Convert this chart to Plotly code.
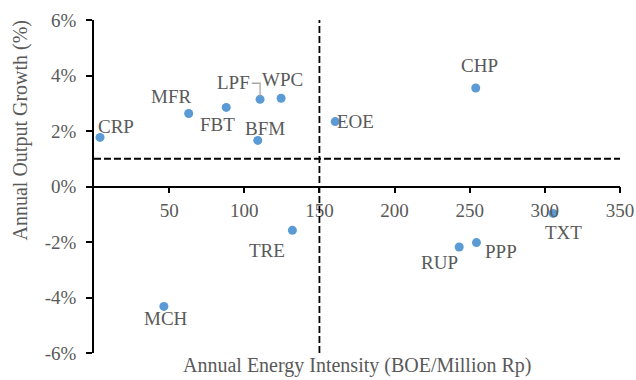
import plotly.graph_objects as go

sectors = ["CRP", "MFR", "FBT", "LPF", "WPC", "BFM", "EOE", "CHP", "TRE", "MCH", "RUP", "PPP", "TXT"]
energy_intensity = [4, 63, 88, 110.5, 124.5, 109, 160.5, 254, 132, 46.5, 243, 254.5, 305.5]
output_growth = [1.77, 2.63, 2.85, 3.14, 3.18, 1.66, 2.34, 3.55, -1.58, -4.32, -2.18, -2.02, -0.97]
# label offsets in pixels (dx right, dy down)
label_dx = [16, -18, -9, -27, 1, 7, 20, 4, -25, 2, -20, 25, 10]
label_dy = [-11, -17, 17, -17, -19, -12, 0, -22, 20, 12, 15, 9, 19]

x_ticks = [50, 100, 150, 200, 250, 300, 350]
x_tick_text = ["50", "100", "150", "200", "250", "300", "350"]
y_ticks = [-6, -4, -2, 0, 2, 4, 6]
y_tick_text = ["-6%", "-4%", "-2%", "0%", "2%", "4%", "6%"]
x_threshold = 150
y_threshold = 1

FONT = "Liberation Serif, Times New Roman, serif"
GRAY = "#595959"
FS = 19
FS_TITLE = 20

fig = go.Figure()
fig.add_trace(go.Scatter(
    x=energy_intensity, y=output_growth, mode="markers",
    marker=dict(color="#5B9BD5", size=9),
    hoverinfo="text", text=sectors, showlegend=False,
))

for name, x, y, dx, dy in zip(sectors, energy_intensity, output_growth, label_dx, label_dy):
    fig.add_annotation(x=x, y=y, text=name, showarrow=False, xshift=dx, yshift=-dy,
                       font=dict(family=FONT, size=FS, color=GRAY))

# leader line for LPF
i = sectors.index("LPF")
lx, ly = energy_intensity[i], output_growth[i]
fig.add_shape(type="path", xref="x", yref="y",
              path=f"M {lx - 5.5} {ly + 0.58} L {lx} {ly + 0.58} L {lx} {ly + 0.1}",
              line=dict(color="#A6A6A6", width=1.3))

# threshold dashed lines
fig.add_shape(type="line", x0=x_threshold, x1=x_threshold, y0=y_ticks[0], y1=y_ticks[-1],
              xref="x", yref="y", line=dict(color="black", width=1.8, dash="7px,3px"))
fig.add_shape(type="line", x0=0, x1=x_ticks[-1], y0=y_threshold, y1=y_threshold,
              xref="x", yref="y", line=dict(color="black", width=1.8, dash="7px,3px"))

fig.update_layout(
    width=636, height=380,
    margin=dict(l=94, r=16, t=20, b=27, autoexpand=False),
    plot_bgcolor="white", paper_bgcolor="white",
    font=dict(family=FONT, color=GRAY, size=FS),
    xaxis=dict(range=[0, 350], tickvals=x_ticks, ticktext=x_tick_text, showgrid=False, zeroline=False,
               showline=True, linecolor="black", linewidth=1.8, automargin=False,
               ticks="outside", ticklen=6, tickcolor="black", tickwidth=1.8,
               anchor="free", position=0.5, ticklabelstandoff=1,
               tickfont=dict(family=FONT, size=FS, color=GRAY)),
    yaxis=dict(range=[-6, 6], tickvals=y_ticks, ticktext=y_tick_text, showgrid=False, zeroline=False,
               showline=True, linecolor="black", linewidth=1.8, automargin=False,
               ticks="outside", ticklen=6, tickcolor="black", tickwidth=1.8,
               ticklabelstandoff=6,
               tickfont=dict(family=FONT, size=FS, color=GRAY)),
)
fig.add_annotation(text="Annual Energy Intensity (BOE/Million Rp)", xref="paper", yref="paper",
                   x=0.5, y=0, yshift=-12, yanchor="middle", xanchor="center", showarrow=False,
                   font=dict(family=FONT, size=FS_TITLE, color=GRAY))
fig.add_annotation(text="Annual Output Growth (%)", xref="paper", yref="paper", textangle=-90,
                   x=0, xshift=-74, y=0.5, yshift=56, xanchor="center", yanchor="middle",
                   showarrow=False, font=dict(family=FONT, size=FS_TITLE, color=GRAY))

fig.write_html("out.html", config={"displayModeBar": False},
               post_script="document.body.style.margin='0';document.body.style.overflow='hidden';")
